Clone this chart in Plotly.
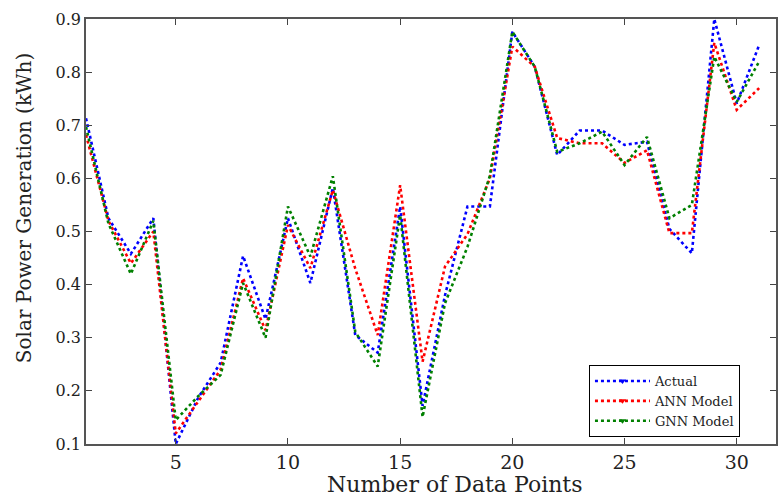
import plotly.graph_objects as go

x_points = list(range(1, 32))
actual = [0.713, 0.525, 0.458, 0.525, 0.100, 0.187, 0.253, 0.454, 0.335, 0.525,
          0.403, 0.582, 0.305, 0.272, 0.547, 0.172, 0.380, 0.547, 0.547, 0.876,
          0.810, 0.644, 0.690, 0.690, 0.663, 0.669, 0.505, 0.459, 0.900, 0.741, 0.851]
ann = [0.682, 0.520, 0.440, 0.500, 0.120, 0.180, 0.240, 0.412, 0.314, 0.512,
       0.431, 0.578, 0.430, 0.305, 0.587, 0.255, 0.434, 0.495, 0.600, 0.848,
       0.810, 0.676, 0.666, 0.666, 0.629, 0.653, 0.497, 0.497, 0.855, 0.729, 0.770]
gnn = [0.697, 0.515, 0.420, 0.520, 0.145, 0.190, 0.230, 0.403, 0.300, 0.547,
       0.453, 0.604, 0.311, 0.246, 0.531, 0.151, 0.365, 0.471, 0.605, 0.876,
       0.810, 0.650, 0.666, 0.688, 0.625, 0.678, 0.525, 0.550, 0.829, 0.744, 0.820]

series = [("Actual", actual, "#0000FF"),
          ("ANN Model", ann, "#FF0000"),
          ("GNN Model", gnn, "#008000")]

x_ticks = [5, 10, 15, 20, 25, 30]
y_ticks = [0.1, 0.2, 0.3, 0.4, 0.5, 0.6, 0.7, 0.8, 0.9]
x_title = "Number of Data Points"
y_title = "Solar Power Generation (kWh)"

fig = go.Figure()
for name, vals, col in series:
    fig.add_trace(go.Scatter(x=x_points, y=vals, mode="lines", name=name,
                             line=dict(color=col, width=2.6, dash="dot"),
                             showlegend=False))
for name, vals, col in series:
    fig.add_trace(go.Scatter(x=[None], y=[None], mode="lines+markers", name=name,
                             line=dict(color=col, width=2.6, dash="dot"),
                             marker=dict(color=col, size=6, symbol="triangle-down"),
                             showlegend=True))

font_family = "DejaVu Serif, Liberation Serif, serif"
fig.update_layout(
    width=780, height=500,
    margin=dict(l=86, r=2, t=19, b=56),
    paper_bgcolor="white", plot_bgcolor="white",
    font=dict(family=font_family, size=16, color="#222"),
    legend=dict(x=0.0035 + (588 - 86) / 692, y=(444 - 365) / 425, xanchor="left", yanchor="top",
                bgcolor="white", bordercolor="black", borderwidth=1,
                font=dict(family=font_family, size=13, color="#222"),
                itemwidth=55, tracegroupgap=0),
    xaxis=dict(range=[1, 31.75], tickvals=x_ticks, ticks="inside", ticklen=6,
               showline=True, linecolor="#555", linewidth=1.5, mirror="ticks",
               showgrid=False, zeroline=False,
               tickfont=dict(size=19)),
    yaxis=dict(range=[0.1, 0.9], tickvals=y_ticks, tickformat=".1f",
               ticks="inside", ticklen=6,
               showline=True, linecolor="#555", linewidth=1.5, mirror="ticks",
               showgrid=False, zeroline=False,
               tickfont=dict(size=16)),
    annotations=[
        dict(text=x_title, xref="paper", yref="paper",
             x=(456 - 86) / 692, y=0, yshift=-40, xanchor="center", yanchor="middle",
             showarrow=False, font=dict(family=font_family, size=22, color="#222")),
        dict(text=y_title, xref="paper", yref="paper", textangle=-90,
             x=(24 - 86) / 692, y=(444 - 208) / 425, xanchor="center", yanchor="middle",
             showarrow=False, font=dict(family=font_family, size=20, color="#222")),
    ],
)

fig.write_html("out.html")
